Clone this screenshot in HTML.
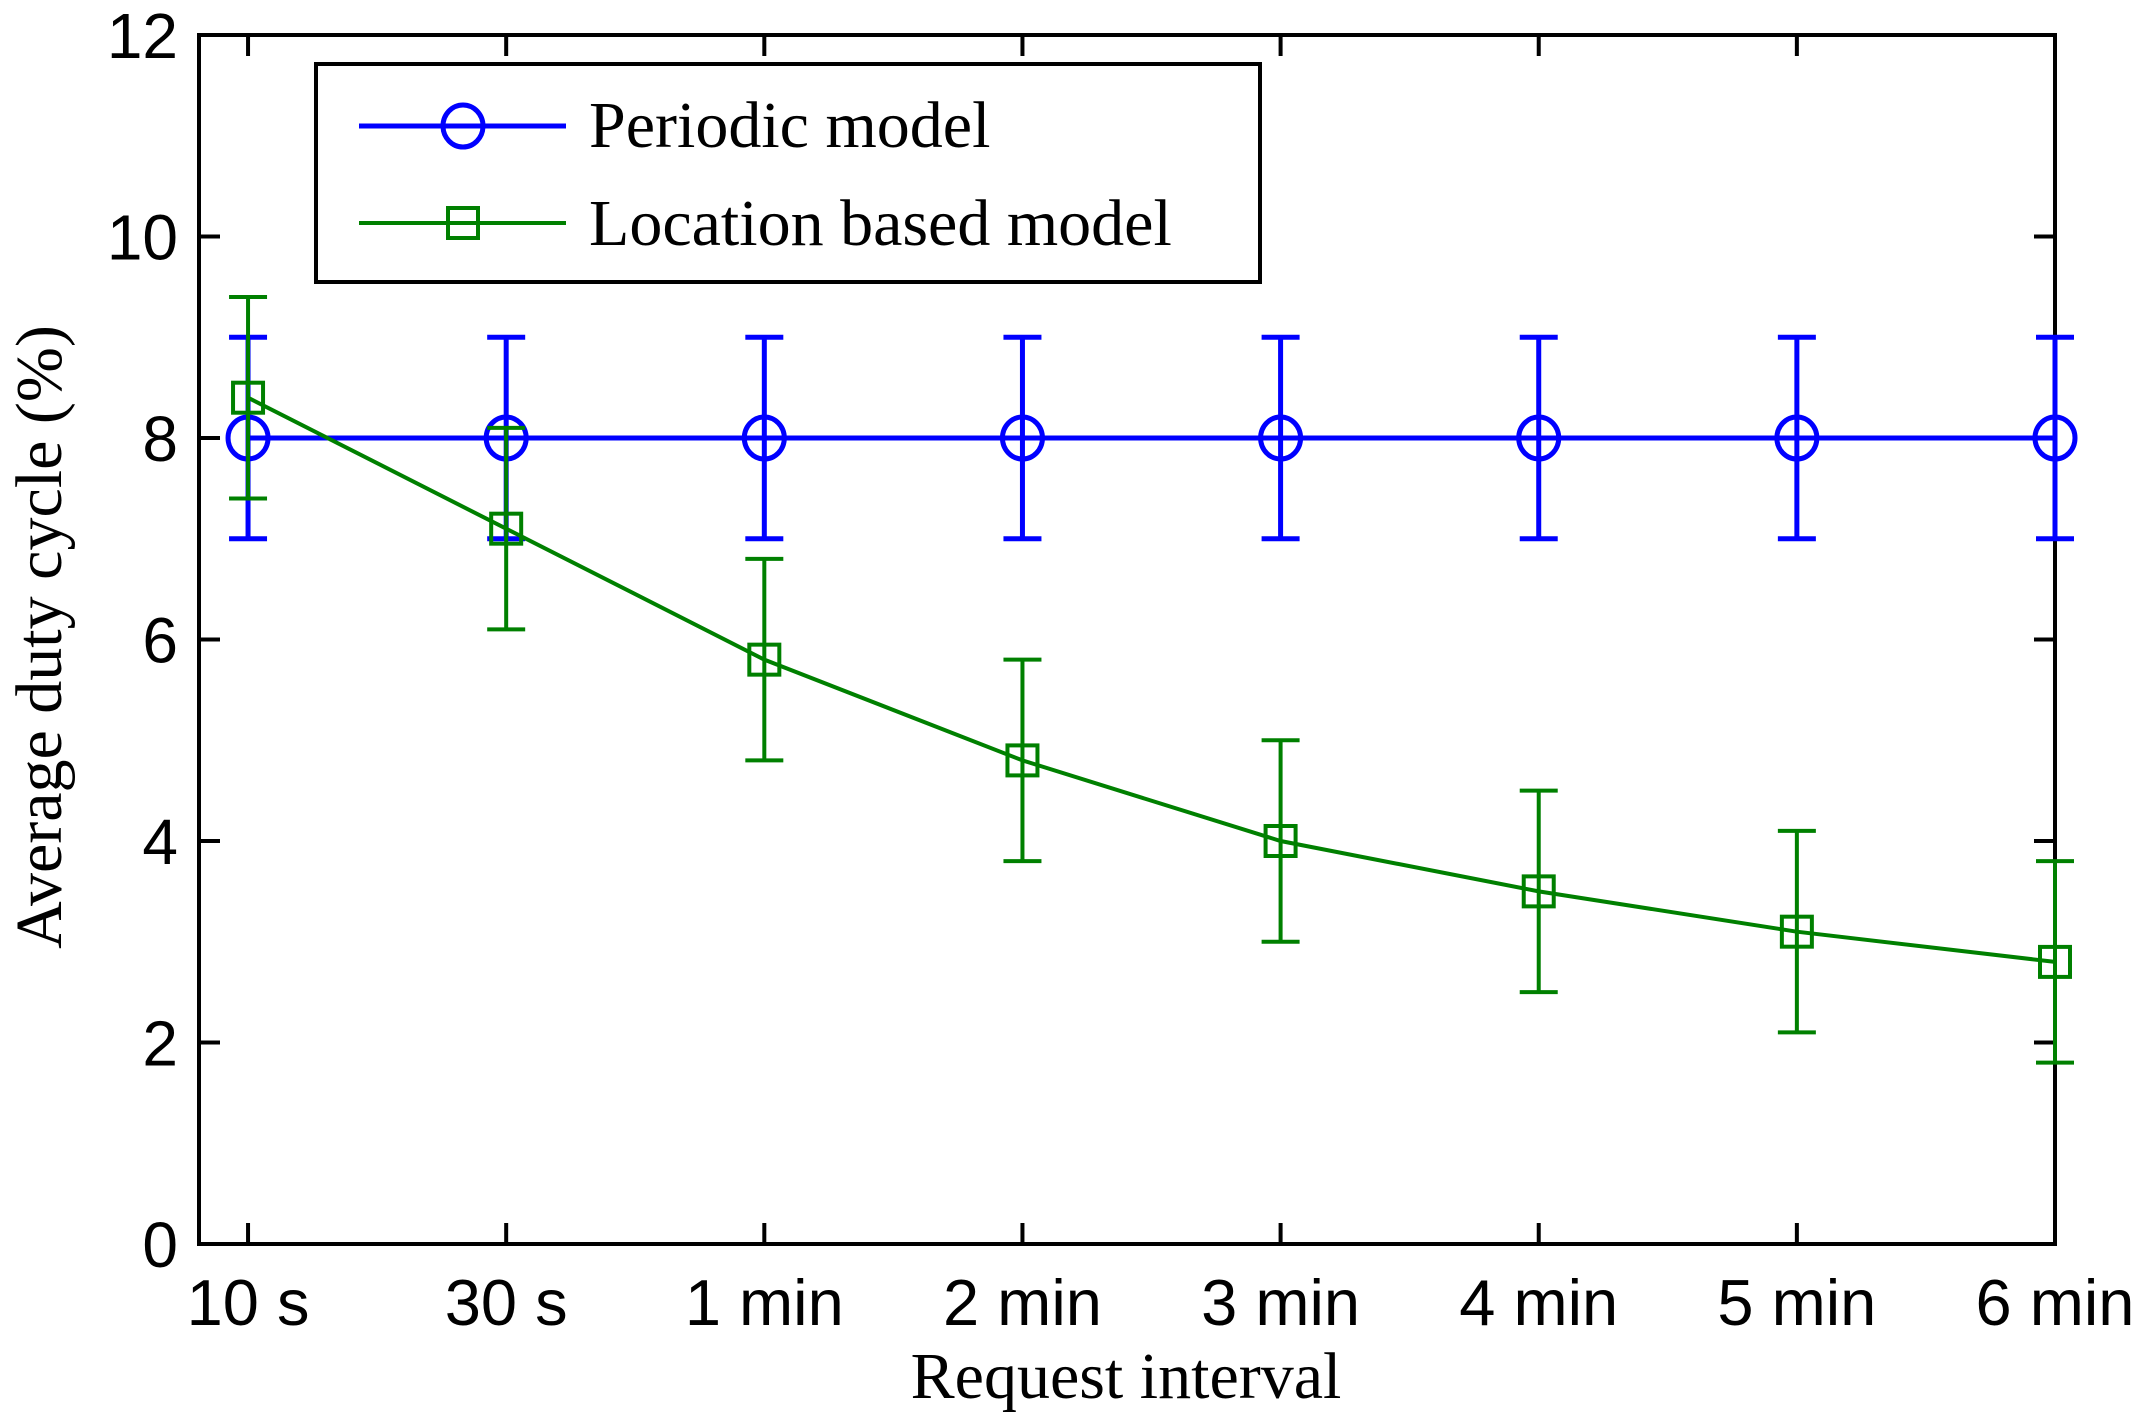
<!DOCTYPE html>
<html><head><meta charset="utf-8"><style>
html,body{margin:0;padding:0;background:#fff;}
svg{display:block;}
</style></head><body>
<svg id="chart" width="2148" height="1427" viewBox="0 0 2148 1427" xmlns="http://www.w3.org/2000/svg">
<rect x="0" y="0" width="2148" height="1427" fill="#fff"/>
<g id="plot"></g>
</svg>
<script>
const categories = ["10 s","30 s","1 min","2 min","3 min","4 min","5 min","6 min"];
const periodicValues = [8,8,8,8,8,8,8,8];
const periodicErr = [1,1,1,1,1,1,1,1];
const locationValues = [8.4,7.1,5.8,4.8,4.0,3.5,3.1,2.8];
const locationErr = [1,1,1,1,1,1,1,1];
const yTicks = [0,2,4,6,8,10,12];

const L=199,R=2055,T=35,B=1244;
const xMin=-0.19,xMax=7,yMin=0,yMax=12;
const xs=i=>L+(i-xMin)/(xMax-xMin)*(R-L);
const ys=v=>B-(v-yMin)/(yMax-yMin)*(B-T);
const NS="http://www.w3.org/2000/svg";
const g=document.getElementById('plot');
function mk(tag,attrs,parent){const e=document.createElementNS(NS,tag);for(const k in attrs)e.setAttribute(k,attrs[k]);(parent||g).appendChild(e);return e;}

const box=mk('rect',{x:L,y:T,width:R-L,height:B-T,fill:'none',stroke:'#000','stroke-width':4});


yTicks.forEach(v=>{
  const y=ys(v);
  const t1=mk('line',{x1:L,x2:L+21,y1:y,y2:y,stroke:'#000','stroke-width':4});
  
  
  const t2=mk('line',{x1:R,x2:R-21,y1:y,y2:y,stroke:'#000','stroke-width':4});
  
  
  const tx=mk('text',{x:178,y:y+23,'text-anchor':'end','font-family':'Liberation Sans, sans-serif','font-size':64,fill:'#000'});
  tx.textContent=v;
  
  
});
categories.forEach((c,i)=>{
  const x=xs(i);
  const t1=mk('line',{x1:x,x2:x,y1:B,y2:B-21,stroke:'#000','stroke-width':4});
  
  
  const t2=mk('line',{x1:x,x2:x,y1:T,y2:T+21,stroke:'#000','stroke-width':4});
  
  
  const tx=mk('text',{x:x,y:1325,'text-anchor':'middle','font-family':'Liberation Sans, sans-serif','font-size':65,fill:'#000'});
  tx.textContent=c;
  
  
});
const xt=mk('text',{x:1126,y:1398,'text-anchor':'middle','font-family':'Liberation Serif, serif','font-size':66,fill:'#000'});
xt.textContent='Request interval';


const yt=mk('text',{x:0,y:0,'text-anchor':'middle','font-family':'Liberation Serif, serif','font-size':66,fill:'#000',transform:'translate(61,637) rotate(-90)'});
yt.textContent='Average duty cycle (%)';



function series(vals,errs,color,sw,marker,name){
  const sg=mk('g',{});
  
  
  const pts=vals.map((v,i)=>xs(i)+','+ys(v)).join(' ');
  const pl=mk('polyline',{points:pts,fill:'none',stroke:color,'stroke-width':sw},sg);
  
  
  vals.forEach((v,i)=>{
    const x=xs(i),y1=ys(v-errs[i]),y2=ys(v+errs[i]);
    const eb=mk('path',{d:`M${x},${y1}V${y2}M${x-19},${y1}H${x+19}M${x-19},${y2}H${x+19}`,stroke:color,'stroke-width':sw,fill:'none'},sg);
    
    
    let m;
    if(marker==='circle') m=mk('ellipse',{cx:x,cy:ys(v),rx:20,ry:21,fill:'none',stroke:color,'stroke-width':sw},sg);
    else m=mk('rect',{x:x-15,y:ys(v)-15,width:30,height:30,fill:'none',stroke:color,'stroke-width':sw},sg);
    
    
  });
}
series(periodicValues,periodicErr,'#0000ff',5,'circle','periodic');
series(locationValues,locationErr,'#008000',4,'square','location');

const lg=mk('g',{});


mk('rect',{x:316,y:64,width:944,height:218,fill:'#fff',stroke:'#000','stroke-width':4},lg);
const e1=mk('g',{},lg);


mk('line',{x1:359,x2:566,y1:126,y2:126,stroke:'#0000ff','stroke-width':5},e1);
mk('ellipse',{cx:463,cy:126,rx:20,ry:21,fill:'none',stroke:'#0000ff','stroke-width':5},e1);
const lt1=mk('text',{x:589,y:147,'font-family':'Liberation Serif, serif','font-size':66,fill:'#000'},e1);
lt1.textContent='Periodic model';
const e2=mk('g',{},lg);


mk('line',{x1:359,x2:566,y1:223,y2:223,stroke:'#008000','stroke-width':4},e2);
mk('rect',{x:448,y:208,width:30,height:30,fill:'none',stroke:'#008000','stroke-width':4},e2);
const lt2=mk('text',{x:589,y:245,'font-family':'Liberation Serif, serif','font-size':66,fill:'#000'},e2);
lt2.textContent='Location based model';
</script>
</body></html>
